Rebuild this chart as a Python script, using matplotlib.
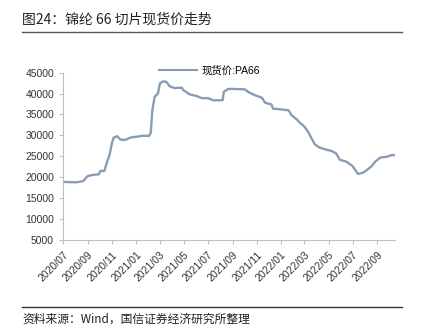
import matplotlib
matplotlib.use("Agg")
import matplotlib.pyplot as plt
import matplotlib.dates as mdates
import pandas as pd

plt.rcParams['font.family'] = ['Liberation Sans', 'Noto Sans CJK SC', 'DejaVu Sans']

# PA66 spot price
dates = [
    "2020-07-01", "2020-08-05", "2020-08-21", "2020-09-01", "2020-09-16", "2020-09-29",
    "2020-10-03", "2020-10-13", "2020-10-20", "2020-10-26", "2020-11-02", "2020-11-06",
    "2020-11-14", "2020-11-23", "2020-12-05", "2020-12-18", "2021-01-04", "2021-01-16",
    "2021-02-03", "2021-02-07", "2021-02-11", "2021-02-17", "2021-02-25", "2021-03-02",
    "2021-03-10", "2021-03-18", "2021-03-27", "2021-04-08", "2021-04-26", "2021-04-30",
    "2021-05-16", "2021-06-03", "2021-06-15", "2021-07-01", "2021-07-14", "2021-08-07",
    "2021-08-10", "2021-08-21", "2021-09-02", "2021-10-02", "2021-10-10", "2021-10-27",
    "2021-11-14", "2021-11-22", "2021-12-08", "2021-12-12", "2022-01-02", "2022-01-20",
    "2022-01-28", "2022-02-10", "2022-02-18", "2022-03-01", "2022-03-10", "2022-03-19",
    "2022-03-27", "2022-04-08", "2022-04-25", "2022-05-08", "2022-05-20", "2022-05-29",
    "2022-06-15", "2022-06-30", "2022-07-10", "2022-07-14", "2022-07-27", "2022-08-05",
    "2022-08-18", "2022-08-26", "2022-09-08", "2022-09-25", "2022-10-07", "2022-10-15",
]
price = [
    18900, 18800, 19100, 20300, 20600, 20700,
    21500, 21500, 23700, 25300, 28500, 29500,
    29800, 29000, 28900, 29500, 29700, 29900,
    29900, 30700, 36100, 39250, 40000, 42400,
    42900, 42800, 41700, 41300, 41400, 40800,
    39800, 39400, 38900, 38900, 38400, 38400,
    40400, 41100, 41100, 41000, 40400, 39600,
    39000, 37800, 37400, 36400, 36200, 36000,
    34800, 33800, 33000, 32100, 30900, 29300,
    27900, 27100, 26600, 26300, 25700, 24200,
    23700, 22700, 21350, 20800, 21100, 21700,
    22700, 23700, 24700, 24900, 25300, 25300,
]
tick_dates = pd.date_range("2020-07-01", "2022-09-01", freq="2MS")
y_ticks = list(range(5000, 45001, 5000))

dates = pd.to_datetime(dates)

fig = plt.figure(figsize=(4.26, 3.33), dpi=100)
ax = fig.add_axes([0.148, 0.279, 0.779, 0.503])

ax.plot(dates, price, color="#8a9cb4", lw=1.7, label="现货价:PA66")

ax.set_xlim(pd.Timestamp("2020-07-01"), pd.Timestamp("2022-10-15"))
ax.set_ylim(5000, 45000)
ax.set_yticks(y_ticks)
ax.set_xticks(tick_dates)
ax.xaxis.set_major_formatter(mdates.DateFormatter("%Y/%m"))
for lbl in ax.get_xticklabels():
    lbl.set_rotation(45)
    lbl.set_ha("right")
    lbl.set_rotation_mode("anchor")

ax.tick_params(axis="both", labelsize=7.5, colors="#bfbfbf", labelcolor="#333333",
               length=3, width=0.8)
ax.tick_params(axis="x", labelsize=7.5, pad=4)
for s in ["top", "right"]:
    ax.spines[s].set_visible(False)
for s in ["left", "bottom"]:
    ax.spines[s].set_color("#bfbfbf")
    ax.spines[s].set_linewidth(0.8)

leg = ax.legend(loc="center left", bbox_to_anchor=(0.29, 1.01), frameon=False,
                fontsize=7.5, handlelength=3.6, borderaxespad=0, borderpad=0,
                handletextpad=0.5)
for h in leg.get_lines():
    h.set_linewidth(1.5)

# title, rules and source note
fig.text(0.052, 0.94, "图24：锦纶 66 切片现货价走势", fontsize=10,
         family=["Noto Sans CJK SC", "DejaVu Sans"], va="center", color="#222222")
fig.add_artist(plt.Line2D([0.052, 0.944], [0.904, 0.904], color="#555555", lw=1))
fig.add_artist(plt.Line2D([0.052, 0.944], [0.078, 0.078], color="#333333", lw=1))
fig.text(0.052, 0.042, "资料来源：Wind，国信证券经济研究所整理", fontsize=8.5,
         family=["Noto Sans CJK SC", "DejaVu Sans"], va="center", color="#222222")

fig.savefig("out.png", dpi=100)
